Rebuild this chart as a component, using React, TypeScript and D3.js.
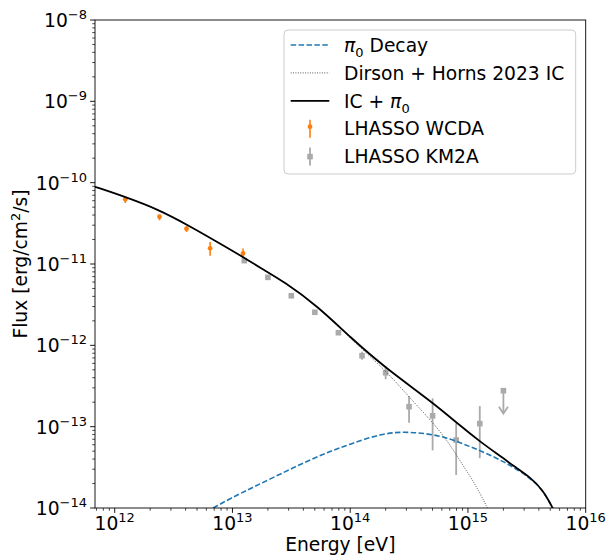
import React from 'react';
import * as d3 from 'd3';

// model curves (energy in eV, flux in erg/cm2/s)
const totalE = [6.8e11, 1.22e12, 2.33e12, 4.19e12, 8.55e12, 1.24e13, 1.75e13, 2.75e13, 5.27e13, 1.01e14, 1.93e14, 5.13e14, 8.63e14, 1.27e15, 2.0e15, 2.44e15, 3.37e15, 4.35e15, 5.26e15];
const totalF = [8.9e-11, 6.71e-11, 4.7e-11, 3.01e-11, 1.66e-11, 1.21e-11, 8.85e-12, 6.05e-12, 3.04e-12, 1.24e-12, 5.46e-13, 1.94e-13, 1.02e-13, 6.53e-14, 4.08e-14, 3.28e-14, 2.4e-14, 1.66e-14, 9.9e-15];

const icE = [6.8e11, 1.22e12, 2.33e12, 4.19e12, 8.55e12, 1.75e13, 2.75e13, 5.27e13, 8.3e13, 1.23e14, 2.07e14, 3.05e14, 4.81e14, 6.65e14, 9.2e14, 1.05e15, 1.27e15, 1.47e15];
const icF = [8.9e-11, 6.71e-11, 4.7e-11, 3.01e-11, 1.66e-11, 8.85e-12, 6.05e-12, 3.04e-12, 1.59e-12, 9.27e-13, 4.66e-13, 2.45e-13, 1.21e-13, 6.86e-14, 3.22e-14, 2.43e-14, 1.51e-14, 9.9e-15];

const pionE = [6.87e12, 9.75e12, 1.45e13, 2.35e13, 3.81e13, 6.18e13, 1.0e14, 1.93e14, 3.25e14, 5.83e14, 9.2e14, 1.45e15, 2.29e15, 3.37e15, 4.35e15, 5.26e15];
const pionF = [1.0e-14, 1.33e-14, 1.76e-14, 2.47e-14, 3.47e-14, 4.74e-14, 6.12e-14, 8.43e-14, 8.67e-14, 7.83e-14, 6.12e-14, 4.7e-14, 3.37e-14, 2.35e-14, 1.64e-14, 9.9e-15];

// LHAASO WCDA points
const wcdaE = [1.23e12, 2.4e12, 4.07e12, 6.46e12, 1.23e13];
const wcdaF = [6.24e-11, 3.81e-11, 2.72e-11, 1.56e-11, 1.35e-11];
const wcdaLo = [0.6e-11, 0.35e-11, 0.25e-11, 0.3e-11, 0.15e-11];
const wcdaHi = [0.4e-11, 0.25e-11, 0.2e-11, 0.3e-11, 0.2e-11];

// LHAASO KM2A points
const km2aE = [1.26e13, 2.0e13, 3.16e13, 5.01e13, 7.94e13, 1.26e14, 2.0e14, 3.16e14, 5.01e14, 7.94e14, 1.26e15];
const km2aF = [1.1e-11, 6.85e-12, 4.07e-12, 2.55e-12, 1.43e-12, 7.45e-13, 4.6e-13, 1.76e-13, 1.36e-13, 6.85e-14, 1.09e-13];
const km2aLo = [0.3e-12, 0.2e-12, 0.15e-12, 0.1e-12, 0.08e-12, 0.8e-13, 0.77e-13, 0.64e-13, 0.85e-13, 4.3e-14, 6.8e-14];
const km2aHi = [0.3e-12, 0.2e-12, 0.15e-12, 0.1e-12, 0.08e-12, 0.9e-13, 0.92e-13, 0.62e-13, 0.87e-13, 4.15e-14, 7.0e-14];
const km2aUlE = [2.0e15];
const km2aUlF = [2.77e-13];

const xExps = [12, 13, 14, 15, 16];
const yExps = [-14, -13, -12, -11, -10, -9, -8];

const W = 609;
const H = 555;
const left = 95, right = 585.7, top = 20, bottom = 508;
const font = 'DejaVu Sans';
const fs = 18.7;

const x = d3.scaleLog().domain([6.8e11, 1e16]).range([left, right]);
const y = d3.scaleLog().domain([1e-14, 1e-8]).range([bottom, top]);

const zip = (a: number[], b: number[]) => a.map((v, i) => [v, b[i]] as [number, number]);
const line = d3.line<[number, number]>()
  .x(d => x(d[0]))
  .y(d => y(d[1]))
  .curve(d3.curveBasis);

const orange = '#ff7f0e';
const blue = '#1f77b4';
const gray = '#aaaaaa';

function minorTicks(lo: number, hi: number) {
  const out: number[] = [];
  for (let e = lo; e < hi; e++) {
    for (let k = 2; k <= 9; k++) out.push(k * Math.pow(10, e));
  }
  return out;
}

const Pow = ({ e, ...rest }: any) => (
  <text fontFamily={font} fontSize={fs} {...rest}>
    10<tspan dy={-8} fontSize={13}>{e < 0 ? '\u2212' + -e : e}</tspan>
  </text>
);

const Pi0 = () => (
  <>
    <tspan fontStyle="italic">π</tspan>
    <tspan dy={5} fontSize={13}>0</tspan>
  </>
);

export default function App() {
  const xMinor = minorTicks(11, 16).filter(v => v >= 6.8e11 && v <= 1e16);
  const yMinor = minorTicks(-14, -8);

  const legendRows = ['dash', 'dot', 'solid', 'wcda', 'km2a'];
  const rowY = (i: number) => 45 + 27.9 * i;

  return (
    <svg width={W} height={H} style={{ position: 'absolute', left: 0, top: 0, background: '#fff' }}>
      <defs>
        <clipPath id="plot">
          <rect x={left} y={top} width={right - left} height={bottom - top} />
        </clipPath>
      </defs>

      <g clipPath="url(#plot)">
        {/* WCDA */}
        {wcdaE.map((e, i) => (
          <g key={'w' + i}>
            <line x1={x(e)} x2={x(e)} y1={y(wcdaF[i] - wcdaLo[i])} y2={y(wcdaF[i] + wcdaHi[i])} stroke={orange} strokeWidth={1.6} />
            <circle cx={x(e)} cy={y(wcdaF[i])} r={2.4} fill={orange} />
          </g>
        ))}
        {/* KM2A */}
        {km2aE.map((e, i) => (
          <g key={'k' + i}>
            <line x1={x(e)} x2={x(e)} y1={y(km2aF[i] - km2aLo[i])} y2={y(km2aF[i] + km2aHi[i])} stroke={gray} strokeWidth={1.8} />
            <rect x={x(e) - 2.8} y={y(km2aF[i]) - 2.8} width={5.6} height={5.6} fill={gray} />
          </g>
        ))}
        {km2aUlE.map((e, i) => {
          const cx = x(e), cy = y(km2aUlF[i]);
          return (
            <g key={'u' + i}>
              <line x1={cx} x2={cx} y1={cy} y2={cy + 22} stroke={gray} strokeWidth={1.8} />
              <path d={`M${cx - 4.5},${cy + 16} L${cx},${cy + 23} L${cx + 4.5},${cy + 16}`} fill="none" stroke={gray} strokeWidth={1.8} />
              <rect x={cx - 2.8} y={cy - 2.8} width={5.6} height={5.6} fill={gray} />
            </g>
          );
        })}

        <path d={line(zip(pionE, pionF)) || ''} fill="none" stroke={blue} strokeWidth={1.6} strokeDasharray="5.5,2.4" />
        <path d={line(zip(icE, icF)) || ''} fill="none" stroke="#333" strokeWidth={0.9} strokeDasharray="0.9,1.5" />
        <path d={line(zip(totalE, totalF)) || ''} fill="none" stroke="#000" strokeWidth={1.8} />
      </g>

      {/* frame */}
      <rect x={left} y={top} width={right - left} height={bottom - top} fill="none" stroke="#000" strokeWidth={0.9} />

      {/* x ticks */}
      {xExps.map(e => (
        <g key={'xt' + e}>
          <line x1={x(Math.pow(10, e))} x2={x(Math.pow(10, e))} y1={bottom} y2={bottom + 4.9} stroke="#000" strokeWidth={0.9} />
          <Pow e={e} x={x(Math.pow(10, e))} y={bottom + 22} textAnchor="middle" />
        </g>
      ))}
      {xMinor.map((v, i) => (
        <line key={'xm' + i} x1={x(v)} x2={x(v)} y1={bottom} y2={bottom + 2.8} stroke="#000" strokeWidth={0.7} />
      ))}

      {/* y ticks */}
      {yExps.map(e => (
        <g key={'yt' + e}>
          <line x1={left - 4.9} x2={left} y1={y(Math.pow(10, e))} y2={y(Math.pow(10, e))} stroke="#000" strokeWidth={0.9} />
          <Pow e={e} x={left - 8} y={y(Math.pow(10, e)) + 7} textAnchor="end" />
        </g>
      ))}
      {yMinor.map((v, i) => (
        <line key={'ym' + i} x1={left - 2.8} x2={left} y1={y(v)} y2={y(v)} stroke="#000" strokeWidth={0.7} />
      ))}

      {/* axis labels */}
      <text x={(left + right) / 2} y={551} textAnchor="middle" fontFamily={font} fontSize={fs}>Energy [eV]</text>
      <text transform={`translate(27,${(top + bottom) / 2}) rotate(-90)`} textAnchor="middle" fontFamily={font} fontSize={fs}>
        Flux [erg/cm<tspan dy={-7} fontSize={13}>2</tspan><tspan dy={7}>/s]</tspan>
      </text>

      {/* legend */}
      <rect x={284} y={30} width={291.7} height={144} rx={4} fill="#fff" fillOpacity={0.8} stroke="#cccccc" strokeWidth={1} />
      {legendRows.map((kind, i) => {
        const cy = rowY(i);
        const hx1 = 290.7, hx2 = 329.3, hm = (hx1 + hx2) / 2;
        let handle: any = null;
        if (kind === 'dash') handle = <line x1={hx1} x2={hx2} y1={cy} y2={cy} stroke={blue} strokeWidth={1.6} strokeDasharray="5.5,2.4" />;
        if (kind === 'dot') handle = <line x1={hx1} x2={hx2} y1={cy} y2={cy} stroke="#333" strokeWidth={0.9} strokeDasharray="0.9,1.5" />;
        if (kind === 'solid') handle = <line x1={hx1} x2={hx2} y1={cy} y2={cy} stroke="#000" strokeWidth={1.8} />;
        if (kind === 'wcda') handle = (
          <g>
            <line x1={hm} x2={hm} y1={cy - 9} y2={cy + 9} stroke={orange} strokeWidth={1.6} />
            <circle cx={hm} cy={cy - 2} r={2.4} fill={orange} />
          </g>
        );
        if (kind === 'km2a') handle = (
          <g>
            <line x1={hm} x2={hm} y1={cy - 9} y2={cy + 9} stroke={gray} strokeWidth={1.8} />
            <rect x={hm - 2.8} y={cy - 2.8} width={5.6} height={5.6} fill={gray} />
          </g>
        );
        return <g key={'lg' + i}>{handle}</g>;
      })}
      <g fontFamily={font} fontSize={fs} style={{ whiteSpace: 'pre' }}>
        <text x={344} y={rowY(0) + 6.7}><Pi0 /><tspan dy={-5}> Decay</tspan></text>
        <text x={344} y={rowY(1) + 6.7}>Dirson + Horns 2023 IC</text>
        <text x={344} y={rowY(2) + 6.7}>IC + <Pi0 /></text>
        <text x={344} y={rowY(3) + 6.7}>LHASSO WCDA</text>
        <text x={344} y={rowY(4) + 6.7}>LHASSO KM2A</text>
      </g>
    </svg>
  );
}
